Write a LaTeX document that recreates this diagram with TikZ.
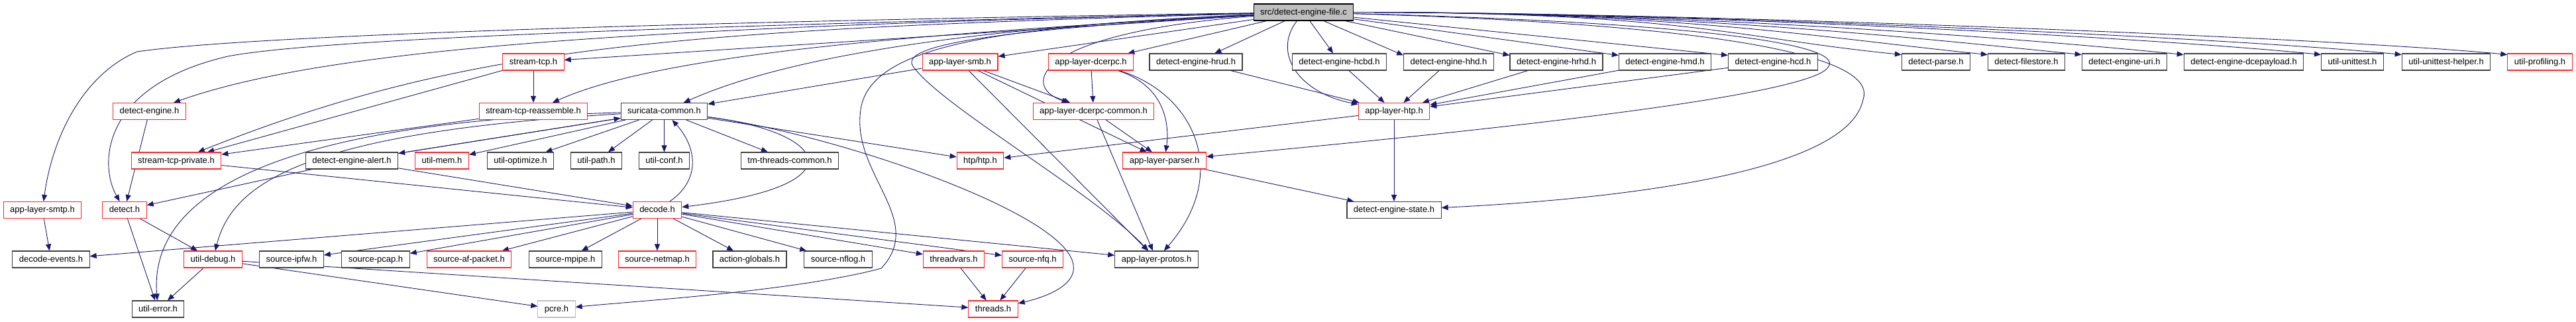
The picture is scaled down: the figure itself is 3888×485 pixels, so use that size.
\documentclass[tikz,border=0pt]{standalone}
\usepackage{fontspec}
\setmainfont{Liberation Sans}
\usepackage{tikz}
\usetikzlibrary{arrows.meta,backgrounds}
\definecolor{edgeblue}{HTML}{191970}
\definecolor{rootgray}{HTML}{BFBFBF}

\begin{document}
\begin{tikzpicture}[x=1pt,y=-1pt,
  hdr/.style={draw=black!75, line width=1.1pt, fill=white, inner xsep=10pt, inner ysep=0pt,
    minimum height=25pt, text height=9.5pt, text depth=2.5pt, font=\fontsize{13}{15}\selectfont},
  hdrred/.style={hdr, draw=red!85},
  hdrext/.style={hdr, draw=rootgray},
  srcnode/.style={hdr, draw=black, fill=rootgray},
  inc/.style={draw=edgeblue, line width=0.9pt, -{Triangle[length=10pt,width=8pt]}}]
  \useasboundingbox (0,0) rectangle (3888,485);
  % the file itself
  \node[srcnode] (root) at (1967.5,18.5) {src/detect-engine-file.c};
  % first level
  \node[hdrred] (streamtcp) at (805,93.5) {stream-tcp.h};
  \node[hdrred] (smb) at (1449,93.5) {app-layer-smb.h};
  \node[hdrred] (dcerpc) at (1646.5,93.5) {app-layer-dcerpc.h};
  \node[hdr] (hrud) at (1805,93.5) {detect-engine-hrud.h};
  \node[hdr] (hcbd) at (2021.5,93.5) {detect-engine-hcbd.h};
  \node[hdr] (hhd) at (2186.5,93.5) {detect-engine-hhd.h};
  \node[hdr] (hrhd) at (2349,93.5) {detect-engine-hrhd.h};
  \node[hdr] (hmd) at (2513,93.5) {detect-engine-hmd.h};
  \node[hdr] (hcd) at (2676,93.5) {detect-engine-hcd.h};
  \node[hdr] (parse) at (2922,93.5) {detect-parse.h};
  \node[hdr] (filestore) at (3058.5,93.5) {detect-filestore.h};
  \node[hdr] (uri) at (3206.5,93.5) {detect-engine-uri.h};
  \node[hdr] (dcepayload) at (3386.5,93.5) {detect-engine-dcepayload.h};
  \node[hdr] (unittest) at (3550.5,93.5) {util-unittest.h};
  \node[hdr] (uthelper) at (3692,93.5) {util-unittest-helper.h};
  \node[hdrred] (profiling) at (3833.5,93.5) {util-profiling.h};
  % second level
  \node[hdrred] (engine) at (225.5,168) {detect-engine.h};
  \node[hdrred] (reassemble) at (805,168) {stream-tcp-reassemble.h};
  \node[hdr] (common) at (1002.5,168) {suricata-common.h};
  \node[hdrred] (dcerpccommon) at (1650.5,168) {app-layer-dcerpc-common.h};
  \node[hdrred] (apphtp) at (2104,168) {app-layer-htp.h};
  % third level
  \node[hdrred] (tcpprivate) at (266,242.5) {stream-tcp-private.h};
  \node[hdr] (alert) at (531,242.5) {detect-engine-alert.h};
  \node[hdrred] (mem) at (667,242.5) {util-mem.h};
  \node[hdr] (optimize) at (785.5,242.5) {util-optimize.h};
  \node[hdr] (path) at (900,242.5) {util-path.h};
  \node[hdr] (conf) at (1002.5,242.5) {util-conf.h};
  \node[hdr] (tmthreads) at (1192,242.5) {tm-threads-common.h};
  \node[hdrred] (libhtp) at (1479.5,242.5) {htp/htp.h};
  \node[hdrred] (parser) at (1757.5,242.5) {app-layer-parser.h};
  % fourth level
  \node[hdrred] (smtp) at (64,317) {app-layer-smtp.h};
  \node[hdrred] (detect) at (188,317) {detect.h};
  \node[hdrred] (decode) at (992,317) {decode.h};
  \node[hdr] (state) at (2104,317) {detect-engine-state.h};
  % fifth level
  \node[hdr] (events) at (77,391.5) {decode-events.h};
  \node[hdrred] (debug) at (321.5,391.5) {util-debug.h};
  \node[hdr] (ipfw) at (440,391.5) {source-ipfw.h};
  \node[hdr] (pcap) at (567,391.5) {source-pcap.h};
  \node[hdrred] (afpacket) at (708,391.5) {source-af-packet.h};
  \node[hdr] (mpipe) at (853.5,391.5) {source-mpipe.h};
  \node[hdrred] (netmap) at (992,391.5) {source-netmap.h};
  \node[hdr] (actglobals) at (1131.5,391.5) {action-globals.h};
  \node[hdr] (nflog) at (1265,391.5) {source-nflog.h};
  \node[hdrred] (threadvars) at (1439.5,391.5) {threadvars.h};
  \node[hdrred] (nfq) at (1558.5,391.5) {source-nfq.h};
  \node[hdr] (protos) at (1745.5,391.5) {app-layer-protos.h};
  % last level
  \node[hdr] (error) at (238.5,466.5) {util-error.h};
  \node[hdrext] (pcre) at (840,466.5) {pcre.h};
  \node[hdrred] (threads) at (1499,466.5) {threads.h};

  \begin{scope}[on background layer]
  % includes of the file itself
  \foreach \n in {streamtcp,smb,dcerpc,hrud,hcbd}
    \draw[inc] (root) -- (\n);
  \foreach \n in {hhd,hrhd,hmd,hcd}
    \draw[inc] (root) -- ([yshift=-3pt]\n.north west);
  \foreach \n in {parse,filestore,uri,dcepayload,unittest,uthelper,profiling}
    \draw[inc] (root.east) .. controls +(500,0) and +(-250,-25) .. ([yshift=-2pt]\n.north west);
  \draw[inc] (root) .. controls (1200,30) and (400,50) .. (207,78) .. controls (130,110) and (80,200) .. (smtp);
  \draw[inc] (root) .. controls (1200,35) and (500,55) .. (344,85) .. controls (150,130) and (150,250) .. (detect);
  \draw[inc] (root) .. controls (1000,40) and (500,70) .. (engine);
  \draw[inc] (root) .. controls (1000,45) and (700,70) .. (tcpprivate);
  \draw[inc] (root) .. controls (1400,50) and (1000,80) .. (reassemble);
  \draw[inc] (root) .. controls (1500,40) and (1200,80) .. (common);
  \draw[inc] (root) .. controls (1560,50) and (1540,130) .. (dcerpccommon);
  \draw[inc] (root) .. controls (1920,80) and (1960,140) .. (apphtp);
  \draw[inc] (root) .. controls (2600,35) and (2780,70) .. (2760,100) .. controls (2740,150) and (2100,210) .. (parser);
  \draw[inc] (root) .. controls (2700,40) and (2830,100) .. (2812,150) .. controls (2790,260) and (2450,300) .. (state);
  \draw[inc] (root) .. controls (1600,40) and (1350,60) .. (1378,100) .. controls (1420,160) and (1650,290) .. (protos);
  \draw[inc] (root) .. controls (1500,40) and (1320,70) .. (1300,160) .. controls (1280,260) and (1400,330) .. (1330,405) .. controls (1200,440) and (950,455) .. (pcre);
  % stream engine
  \draw[inc] (streamtcp) -- (reassemble);
  \draw[inc] (streamtcp) -- (tcpprivate);
  \draw[inc] (reassemble) -- (tcpprivate);
  \draw[inc] (tcpprivate) -- (decode);
  % app layer
  \draw[inc] (smb) -- (common);
  \draw[inc] (smb) -- (dcerpccommon);
  \draw[inc] (smb) -- (parser);
  \draw[inc] (smb) -- (protos);
  \draw[inc] (dcerpc) -- (dcerpccommon);
  \draw[inc] (dcerpc) .. controls (1760,130) and (1765,190) .. (parser);
  \draw[inc] (dcerpc) .. controls (1800,140) and (1860,260) .. (protos);
  \draw[inc] (dcerpccommon) -- (parser);
  \draw[inc] (dcerpccommon) -- (protos);
  \foreach \n in {hrud,hcbd,hhd,hrhd,hmd,hcd}
    \draw[inc] (\n) -- (apphtp);
  \draw[inc] (apphtp) -- (libhtp);
  \draw[inc] (apphtp) -- (state);
  \draw[inc] (parser) -- (state);
  % detection engine
  \draw[inc] (engine) -- (detect);
  \draw[inc] (alert) -- (detect);
  \draw[inc] (alert) -- (decode);
  \draw[inc] (alert) -- (common);
  \draw[inc] (smtp) -- (events);
  \draw[inc] (detect) -- (debug);
  \draw[inc] (detect) -- (error);
  % common header
  \foreach \n in {alert,mem,optimize,path,conf,tmthreads,libhtp}
    \draw[inc] (common) -- (\n);
  \draw[inc] (common) .. controls (400,185) and (225,300) .. (error);
  \draw[inc] (common) .. controls (450,200) and (350,280) .. (debug);
  \draw[inc] (common) .. controls (1250,200) and (1300,280) .. (decode);
  \draw[inc] (decode) .. controls (1060,270) and (1050,220) .. (common);
  \draw[inc] (common) .. controls (1250,200) and (1610,320) .. (1620,400) .. controls (1625,430) and (1580,448) .. (threads);
  % packet decoding
  \foreach \n in {events,ipfw,pcap,afpacket,mpipe,netmap,actglobals,nflog,threadvars,nfq,protos}
    \draw[inc] (decode) -- (\n);
  \draw[inc] (debug) -- (error);
  \draw[inc] (debug) -- (pcre);
  \draw[inc] (debug) -- (threads);
  \draw[inc] (threadvars) -- (threads);
  \draw[inc] (nfq) -- (threads);
  \end{scope}
\end{tikzpicture}
\end{document}
